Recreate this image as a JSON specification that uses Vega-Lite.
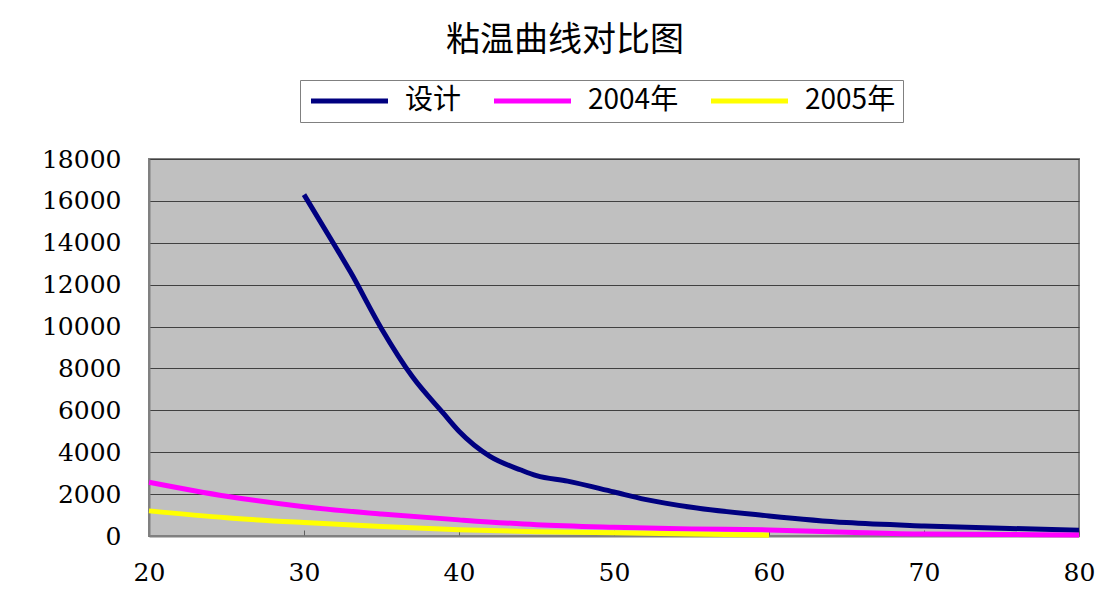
{
  "$schema": "https://vega.github.io/schema/vega-lite/v6.json",
  "width": 930,
  "height": 377,
  "autosize": {"type": "none"},
  "padding": {"left": 149, "top": 159, "right": 21, "bottom": 54},
  "background": "white",
  "title": {
    "text": "粘温曲线对比图",
    "font": "Noto Sans CJK SC",
    "fontSize": 34,
    "fontWeight": "normal",
    "color": "black",
    "anchor": "middle",
    "dx": -49,
    "offset": 22
  },
  "config": {
    "view": {"fill": "#C0C0C0", "stroke": "#808080", "strokeWidth": 2},
    "axis": {
      "labelFont": "DejaVu Serif",
      "labelFontSize": 25,
      "labelColor": "black",
      "domainColor": "#808080",
      "domainWidth": 2,
      "tickColor": "#606060",
      "titleFontSize": 0
    }
  },
  "data": {
    "values": [
      {"t": 30, "v": 16300, "s": "设计"},
      {"t": 32, "v": 13850, "s": "设计"},
      {"t": 33, "v": 12600, "s": "设计"},
      {"t": 35, "v": 9900, "s": "设计"},
      {"t": 37, "v": 7600, "s": "设计"},
      {"t": 39, "v": 5850, "s": "设计"},
      {"t": 40, "v": 5000, "s": "设计"},
      {"t": 42, "v": 3800, "s": "设计"},
      {"t": 44, "v": 3150, "s": "设计"},
      {"t": 45, "v": 2880, "s": "设计"},
      {"t": 47, "v": 2620, "s": "设计"},
      {"t": 50, "v": 2100, "s": "设计"},
      {"t": 52, "v": 1750, "s": "设计"},
      {"t": 55, "v": 1370, "s": "设计"},
      {"t": 60, "v": 960, "s": "设计"},
      {"t": 65, "v": 640, "s": "设计"},
      {"t": 70, "v": 480, "s": "设计"},
      {"t": 75, "v": 370, "s": "设计"},
      {"t": 80, "v": 280, "s": "设计"},
      {"t": 20, "v": 2570, "s": "2004年"},
      {"t": 25, "v": 1900, "s": "2004年"},
      {"t": 30, "v": 1400, "s": "2004年"},
      {"t": 35, "v": 1050, "s": "2004年"},
      {"t": 40, "v": 770, "s": "2004年"},
      {"t": 45, "v": 540, "s": "2004年"},
      {"t": 50, "v": 420, "s": "2004年"},
      {"t": 55, "v": 340, "s": "2004年"},
      {"t": 60, "v": 290, "s": "2004年"},
      {"t": 65, "v": 180, "s": "2004年"},
      {"t": 70, "v": 90, "s": "2004年"},
      {"t": 75, "v": 70, "s": "2004年"},
      {"t": 80, "v": 50, "s": "2004年"},
      {"t": 20, "v": 1200, "s": "2005年"},
      {"t": 25, "v": 870, "s": "2005年"},
      {"t": 30, "v": 640, "s": "2005年"},
      {"t": 35, "v": 450, "s": "2005年"},
      {"t": 40, "v": 300, "s": "2005年"},
      {"t": 45, "v": 200, "s": "2005年"},
      {"t": 50, "v": 150, "s": "2005年"},
      {"t": 55, "v": 100, "s": "2005年"},
      {"t": 60, "v": 40, "s": "2005年"}
    ]
  },
  "mark": {"type": "line", "strokeWidth": 5, "interpolate": "monotone", "clip": false},
  "encoding": {
    "x": {
      "field": "t",
      "type": "quantitative",
      "scale": {"domain": [20, 80], "nice": false, "zero": false},
      "axis": {
        "values": [20, 30, 40, 50, 60, 70, 80],
        "grid": false,
        "title": null,
        "tickSize": -6,
        "labelPadding": 30,
        "labelFlush": false
      }
    },
    "y": {
      "field": "v",
      "type": "quantitative",
      "scale": {"domain": [0, 18000], "nice": false},
      "axis": {
        "values": [0, 2000, 4000, 6000, 8000, 10000, 12000, 14000, 16000, 18000],
        "grid": true,
        "gridColor": "#404040",
        "gridWidth": 1,
        "gridOpacity": 1,
        "title": null,
        "ticks": false,
        "labelPadding": 28,
        "format": "d"
      }
    },
    "color": {
      "field": "s",
      "type": "nominal",
      "scale": {
        "domain": ["设计", "2004年", "2005年"],
        "range": ["#000080", "#FF00FF", "#FFFF00"]
      },
      "legend": {
        "orient": "none",
        "legendX": 151,
        "legendY": -79,
        "direction": "horizontal",
        "title": null,
        "symbolType": "M-1,0H6.7",
        "symbolSize": 400,
        "symbolStrokeWidth": 5,
        "labelFont": "Noto Sans CJK SC",
        "labelFontSize": 28,
        "labelColor": "black",
        "columnPadding": 22,
        "labelOffset": 70,
        "padding": 7,
        "fillColor": "white",
        "strokeColor": "#808080"
      }
    }
  }
}
